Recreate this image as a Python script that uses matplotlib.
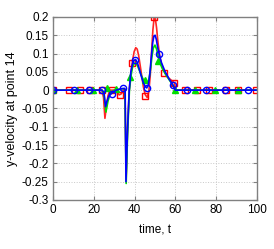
import numpy as np
import matplotlib
matplotlib.use('Agg')
import matplotlib.pyplot as plt

# red series (squares)
red_t = [0, 24, 24.8, 25.5, 26.2, 27, 28, 30, 31.5, 32.5, 33.5, 34.5, 35.3, 35.9, 36.6, 37.4, 38.2, 39, 39.8, 40.6, 41.3,
         42, 42.7, 43.5, 44.3, 45.2, 46.2, 47, 47.7, 48.4, 49, 49.6, 50.2, 50.8, 51.5, 52.3, 53.2, 54.4, 56, 58, 59.5, 60.3, 100]
red_v = [0, 0, -0.02, -0.077, -0.045, -0.015, 0.0, 0.0, -0.006, -0.013, -0.01, 0.0, 0.003, -0.24, -0.1, 0.0, 0.045,
         0.08, 0.105, 0.116, 0.112, 0.095, 0.07, 0.04, 0.01, -0.012, -0.02, -0.005, 0.04, 0.11, 0.165, 0.198, 0.195, 0.17,
         0.13, 0.095, 0.07, 0.052, 0.037, 0.027, 0.02, 0.0, 0.0]
red_mt = [0, 8, 13.5, 18, 24, 29, 33, 39, 45, 49.5, 54.3, 59.5, 64.7, 70.6, 76.5, 84.8, 90.7, 99.5]
red_mv = [0, 0, 0, 0, 0, 0, -0.012, 0.075, -0.015, 0.2, 0.048, 0.02, 0, 0, 0, 0, 0, 0]

# green series (triangles)
green_t = [0, 24, 25, 26, 27, 28, 30, 32, 34, 35.3, 35.9, 36.6, 37.5, 38.3, 39, 39.8, 40.6, 41.5, 42.5, 43.5, 44.5, 45.5,
           46.3, 47, 47.8, 48.5, 49.2, 50, 50.8, 51.6, 52.5, 53.5, 55, 57, 59, 60, 100]
green_v = [0, 0, -0.01, -0.06, -0.03, -0.01, 0.0, 0.002, 0.004, 0.003, -0.255, -0.12, 0.0, 0.04, 0.062, 0.073, 0.074,
           0.066, 0.052, 0.038, 0.027, 0.02, 0.019, 0.028, 0.055, 0.09, 0.115, 0.123, 0.112, 0.092, 0.074, 0.06, 0.045,
           0.028, 0.012, 0.0, 0.0]
green_mt = [0, 11.8, 19.6, 26.5, 31, 38, 45, 51.5, 60, 69.6, 79.4, 90.7]
green_mv = [0, 0, 0, 0.005, 0.002, 0.035, 0.027, 0.08, 0, 0, 0, 0]

# blue series (circles)
blue_t = [0, 24, 25, 25.8, 26.5, 27.5, 29, 31, 33, 35, 35.4, 35.8, 36.5, 37.4, 38.2, 39, 39.8, 40.6, 41.4, 42.3, 43.2,
          44.2, 45.2, 46, 46.8, 47.5, 48.2, 48.9, 49.5, 50.1, 50.7, 51.4, 52.2, 53.2, 55, 57, 58.8, 60, 100]
blue_v = [0, 0, -0.005, -0.045, -0.03, -0.015, -0.008, 0.0, 0.003, 0.005, 0.0, -0.25, -0.12, 0.0, 0.05, 0.072, 0.082,
          0.083, 0.075, 0.058, 0.04, 0.022, 0.01, 0.006, 0.015, 0.045, 0.09, 0.13, 0.148, 0.15, 0.138, 0.115, 0.095, 0.075,
          0.05, 0.03, 0.014, 0.0, 0.0]
blue_mt = [0, 10.5, 17.8, 24, 29, 34.5, 40, 46, 52, 58.8, 65.7, 75, 84.3, 95.6]
blue_mv = [0, 0, 0, 0, -0.01, 0.005, 0.082, 0.006, 0.098, 0.014, 0, 0, 0, 0]

plt.rcParams['font.family'] = ['Liberation Sans', 'DejaVu Sans']

fig = plt.figure(figsize=(2.74, 2.49), dpi=100)
ax = fig.add_axes([0.193, 0.197, 0.745, 0.735])

ax.plot(red_t, red_v, color='red', lw=1.2, alpha=0.85)
ax.plot(red_mt, red_mv, ls='none', marker='s', ms=4.5, mfc='none', mec='red', mew=1.0)
ax.plot(green_t, green_v, color='#00dd00', lw=1.2)
ax.plot(green_mt, green_mv, ls='none', marker='^', ms=4, color='#00dd00')
ax.plot(blue_t, blue_v, color='blue', lw=1.2)
ax.plot(blue_mt, blue_mv, ls='none', marker='o', ms=4.5, mfc='none', mec='blue', mew=1.0)

ax.set_xlim(0, 100)
ax.set_ylim(-0.3, 0.2)
ax.set_xticks(np.arange(0, 101, 20))
ax.set_yticks(np.arange(-0.3, 0.201, 0.05))
ax.set_yticklabels(['-0.3', '-0.25', '-0.2', '-0.15', '-0.1', '-0.05', '0', '0.05', '0.1', '0.15', '0.2'])
ax.grid(True, ls=':', color='#c8c8c8', lw=0.7)
ax.tick_params(direction='in', top=True, right=True, length=3, color='#808080', labelsize=8.5, pad=3)
for s in ax.spines.values():
    s.set_color('#808080')
    s.set_linewidth(1.0)

ax.set_xlabel('time, t', fontsize=8.5, labelpad=5)
ax.set_ylabel('y-velocity at point 14', fontsize=9, labelpad=3)

fig.savefig('out.png', dpi=100)
